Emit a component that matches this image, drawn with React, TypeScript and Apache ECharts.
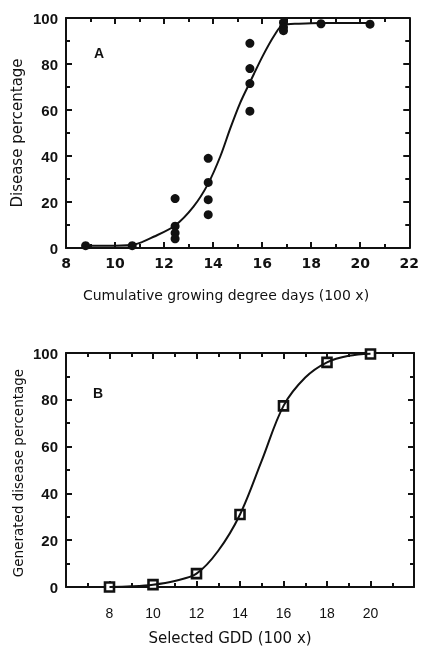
import React, { useEffect, useRef } from "react";
import * as echarts from "echarts";

// Panel A observed points
const obsGddA = [8.8, 10.7, 12.45, 12.45, 12.45, 12.45, 13.8, 13.8, 13.8, 13.8, 15.5, 15.5, 15.5, 15.5, 16.87, 16.87, 16.87, 18.4, 20.4];
const obsDisA = [1, 1, 21.5, 9.5, 6.5, 4, 39, 28.5, 21, 14.5, 89, 78, 71.5, 59.5, 98, 96, 94.5, 97.5, 97.3];
// Panel A fitted curve
const curveGddA = [8.8, 10, 10.8, 11.6, 12.45, 13.2, 13.8, 14.3, 14.7, 15.1, 15.5, 16.0, 16.5, 16.85, 17.5, 18.4, 20.4];
const curveDisA = [1, 1, 1.5, 5, 9.8, 18, 28, 40, 52, 63, 72, 83, 92.5, 97, 97.5, 97.8, 97.8];
// Panel B generated points
const selGddB = [8, 10, 12, 14, 16, 18, 20];
const genDisB = [0, 1, 5.7, 31, 77.4, 96, 99.6];
// Panel B curve
const curveGddB = [8, 9, 10, 11, 12, 13, 14, 15, 16, 17, 18, 19, 20];
const curveDisB = [0, 0.3, 1, 2.6, 5.7, 15.5, 31, 54, 77.4, 89.5, 96, 98.8, 99.7];

const zip = (a: number[], b: number[]) => a.map((v, i) => [v, b[i]]);

const INK = "#111";
const SANS = "Liberation Sans, Arial, sans-serif";
const WIDE = "DejaVu Sans, sans-serif";

const tickStyle = () => ({ show: true, inside: true, length: 6, lineStyle: { color: INK, width: 2 } });
const minorStyle = () => ({ show: true, splitNumber: 2, length: 4, lineStyle: { color: INK, width: 2 } });

export default function App() {
  const ref = useRef<HTMLDivElement>(null);
  useEffect(() => {
    if (!ref.current) return;
    const chart = echarts.init(ref.current, null, { renderer: "svg" });
    const mkX = (grid: number, min: number, max: number, pos: string, labels: boolean, lab: any) => ({
      type: "value", gridIndex: grid, min, max, interval: 2, position: pos,
      axisLine: { show: true, onZero: false, lineStyle: { color: INK, width: 2 } },
      axisTick: tickStyle(), minorTick: minorStyle(),
      splitLine: { show: false },
      axisLabel: { show: labels, color: INK, ...lab, formatter: (v: number) => String(v) },
    });
    const mkY = (grid: number, pos: string, labels: boolean) => ({
      type: "value", gridIndex: grid, min: 0, max: 100, interval: 20, position: pos,
      axisLine: { show: true, lineStyle: { color: INK, width: 2 } },
      axisTick: tickStyle(), minorTick: minorStyle(),
      splitLine: { show: false },
      axisLabel: {
        show: labels, margin: 8, color: INK, fontFamily: SANS, fontWeight: "bold", fontSize: 15,
        formatter: (v: number) => String(v),
      },
    });
    const labA = { margin: 8, fontFamily: WIDE, fontWeight: "bold", fontSize: 14 };
    const labB = { margin: 19, fontFamily: SANS, fontWeight: "normal", fontSize: 14, showMinLabel: false, showMaxLabel: false };
    const t = (text: string, x: number, y: number, size: number, opts: any = {}) => ({
      type: "text", x, y, rotation: opts.rotation || 0,
      style: { text, fill: INK, fontFamily: WIDE, fontSize: size, align: "center", verticalAlign: "middle", ...(opts.style || {}) },
    });
    chart.setOption({
      animation: false,
      grid: [
        { left: 66, top: 18, width: 348, height: 230 },
        { left: 66, top: 353, width: 348, height: 234 },
      ],
      xAxis: [
        mkX(0, 8, 22, "bottom", true, labA),
        mkX(0, 8, 22, "top", false, labA),
        mkX(1, 6, 22, "bottom", true, labB),
        mkX(1, 6, 22, "top", false, labB),
      ],
      yAxis: [
        mkY(0, "left", true),
        mkY(0, "right", false),
        mkY(1, "left", true),
        mkY(1, "right", false),
      ],
      series: [
        {
          type: "line", xAxisIndex: 0, yAxisIndex: 0, data: zip(curveGddA, curveDisA),
          showSymbol: false, smooth: 0.3, lineStyle: { color: INK, width: 2 },
        },
        {
          type: "scatter", xAxisIndex: 0, yAxisIndex: 0, data: zip(obsGddA, obsDisA),
          symbol: "circle", symbolSize: 9, itemStyle: { color: INK, opacity: 1 },
        },
        {
          type: "line", xAxisIndex: 2, yAxisIndex: 2, data: zip(curveGddB, curveDisB),
          showSymbol: false, smooth: 0.35, lineStyle: { color: INK, width: 2 },
        },
        {
          type: "scatter", xAxisIndex: 2, yAxisIndex: 2, data: zip(selGddB, genDisB),
          symbol: "rect", symbolSize: 9, itemStyle: { color: "#fff", borderColor: INK, borderWidth: 2.6, opacity: 1 },
        },
      ],
      graphic: [
        t("A", 99, 53, 14, { style: { fontFamily: SANS, fontWeight: "bold" } }),
        t("B", 98, 393, 14, { style: { fontFamily: SANS, fontWeight: "bold" } }),
        t("Cumulative growing degree days (100 x)", 226, 295, 14),
        t("Disease percentage", 17, 133, 15, { rotation: Math.PI / 2 }),
        t("Selected GDD (100 x)", 230, 638, 15),
        t("Generated disease percentage", 18, 473, 13.5, { rotation: Math.PI / 2 }),
      ],
    });
    return () => chart.dispose();
  }, []);
  return <div ref={ref} style={{ position: "fixed", left: 0, top: 0, width: 422, height: 646 }} />;
}
